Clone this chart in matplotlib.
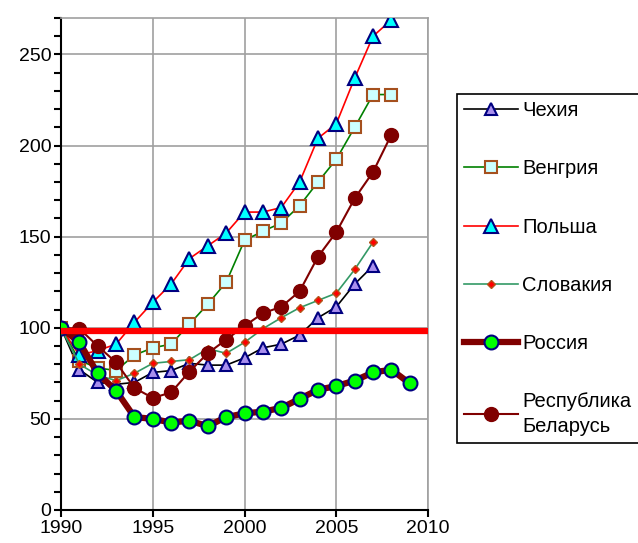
import matplotlib
matplotlib.use("Agg")
import matplotlib.pyplot as plt
from matplotlib.ticker import MultipleLocator

plt.rcParams['font.family'] = ['Liberation Sans', 'DejaVu Sans']

# данные (1990 = 100)
years_czech = list(range(1990, 2008))
czech = [100, 77, 70, 69, 70, 75.5, 76.5, 80.5, 79.5, 79.5, 83.5, 89, 91, 96, 105.5, 111.5, 124, 134]

years_hungary = list(range(1990, 2009))
hungary = [100, 82, 78, 76.5, 85, 89, 91, 102, 113, 125, 148, 153, 157.5, 167, 180, 192.5, 210, 228, 228]

years_poland = list(range(1990, 2009))
poland = [100, 85, 87.5, 91, 103, 114, 124, 138, 145, 152, 163.5, 163.5, 166, 180, 204, 212, 237, 260, 269]

years_slovakia = list(range(1990, 2008))
slovakia = [100, 80, 74, 71, 75, 80.5, 81.5, 82.5, 88.5, 86, 92, 99.5, 105.5, 111, 115, 119, 132, 147]

years_russia = list(range(1990, 2010))
russia = [100, 92, 75, 65.5, 51, 50, 48, 49, 46, 51, 53, 54, 56, 61, 66, 68, 71, 75.5, 77, 69.5]

years_belarus = list(range(1990, 2009))
belarus = [100, 99.5, 90, 81, 67, 61.5, 64.5, 76, 86, 93.5, 101, 108, 111.5, 120, 139, 152.5, 171, 185.5, 206]

ref_level = 98

fig = plt.figure(figsize=(6.38, 5.43), dpi=100)
ax = fig.add_axes([0.0956, 0.0608, 0.5754, 0.906])

grid_col = "#a0a0a0"

ax.plot(years_czech, czech, "-", color="black", lw=1.2, marker="^", ms=9,
        mfc="#a98fee", mec="#000080", mew=1.5, label="Чехия", zorder=4)
ax.plot(years_hungary, hungary, "-", color="#008000", lw=1.2, marker="s", ms=8,
        mfc="#ccffff", mec="#a5501e", mew=1.5, label="Венгрия", zorder=4)
ax.plot(years_poland, poland, "-", color="red", lw=1.2, marker="^", ms=10,
        mfc="#00ffff", mec="#000080", mew=1.5, label="Польша", zorder=4)
ax.plot(years_slovakia, slovakia, "-", color="#339966", lw=1.2, marker="D", ms=4.5,
        mfc="red", mec="#b5541c", mew=1, label="Словакия", zorder=4)
ax.plot(years_russia, russia, "-", color="#800000", lw=4.5, marker="o", ms=10,
        mfc="#00ff00", mec="#000080", mew=1.5, label="Россия", zorder=5)
ax.plot(years_belarus, belarus, "-", color="#800000", lw=1.5, marker="o", ms=10,
        mfc="#800000", mec="#800000", mew=1, label="Республика\nБеларусь", zorder=4)

ax.axhline(ref_level, color="red", lw=4.5, zorder=6)

ax.set_xlim(1990, 2010)
ax.set_ylim(0, 270)
ax.xaxis.set_major_locator(MultipleLocator(5))
ax.yaxis.set_major_locator(MultipleLocator(50))
ax.yaxis.set_minor_locator(MultipleLocator(10))
ax.grid(True, color=grid_col, lw=1.2, zorder=1)
ax.set_axisbelow(True)

for s in ["top", "right"]:
    ax.spines[s].set_color(grid_col)
    ax.spines[s].set_linewidth(1.2)
for s in ["left", "bottom"]:
    ax.spines[s].set_color("black")
    ax.spines[s].set_linewidth(1.5)

ax.tick_params(axis="both", which="major", labelsize=14, length=5, width=1.5,
               direction="out", pad=2)
ax.tick_params(axis="y", which="minor", length=5, width=1.5, direction="out")

leg = fig.legend(loc="upper left", bbox_to_anchor=(457 / 638, 1 - 94 / 543),
                 fontsize=14.5, frameon=True, fancybox=False, framealpha=1,
                 edgecolor="black", numpoints=1, handlelength=2.7,
                 handletextpad=0.2, labelspacing=1.95, borderpad=0.35,
                 borderaxespad=0)
leg.get_frame().set_linewidth(1.2)
leg.get_texts()[-1].set_linespacing(1.35)

fig.savefig("out.png", dpi=100)
